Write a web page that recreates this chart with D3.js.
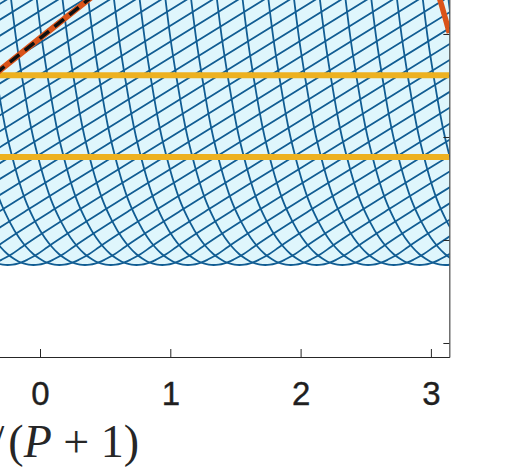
<!DOCTYPE html>
<html lang="en">
<head>
<meta charset="utf-8">
<title>Band mesh</title>
<style>
body { margin: 0; background: #fff; }
svg { display: block; }
.axis path, .axis line { stroke: #262626; stroke-width: 1; }
.axis text { font: 33px "Liberation Sans", Arial, sans-serif; fill: #1f1f1f; stroke: #1f1f1f; stroke-width: 0.4; }
.xlabel { font: 46px "Liberation Serif", serif; fill: #262626; }
</style>
</head>
<body>
<div id="chart"></div>
<script src="https://d3js.org/d3.v7.min.js"></script>
<script>
// tick values
var xTicks = [0, 1, 2, 3];
var yTicks = [0, 1, 2, 3];

// trough positions of the blue curve family
var troughX = [3.90, 3.703, 3.505, 3.308, 3.110, 2.913, 2.715, 2.518, 2.320, 2.123,
  1.925, 1.728, 1.530, 1.333, 1.135, 0.938, 0.740, 0.543, 0.345, 0.148,
  -0.050, -0.248, -0.445, -0.643, -0.840, -1.038, -1.235, -1.433, -1.630, -1.828,
  -2.025, -2.223, -2.420, -2.618, -2.815, -3.013, -3.210, -3.408, -3.605, -3.803, -4.0];
var troughLevel = 0.757;
// curve profile relative to its trough: steep left branch, shallow right branch
var leftDx = [0, -0.038, -0.077, -0.115, -0.153, -0.2, -0.253, -0.307, -0.384, -0.46, -0.537, -0.614, -0.675, -0.729, -0.767, -0.814];
var leftDy = [0, 0.003, 0.015, 0.034, 0.063, 0.107, 0.175, 0.262, 0.427, 0.64, 0.95, 1.35, 1.78, 2.22, 2.6, 3.107];
var rightDx = [0, 0.038, 0.077, 0.115, 0.153, 0.23, 0.307, 0.46, 0.767, 1.535, 2.302, 3.53];
var rightDy = [0, 0.003, 0.013, 0.03, 0.053, 0.107, 0.175, 0.305, 0.553, 1.155, 1.757, 2.718];

// horizontal yellow levels
var levels = [1.806, 2.60];
// red curve at the right edge
var redX = [2.95, 3.07, 3.1416];
var redY = [3.77, 3.33, 3.01];
// red/black dashed line at top left
var dashX = [-0.8, -0.307, 0.368, 0.8];
var dashY = [2.15, 2.65, 3.33, 3.77];

var width = 507, height = 471;
var x = d3.scaleLinear().domain([-Math.PI, Math.PI]).range([40 - Math.PI * 130.3, 40 + Math.PI * 130.3]);
var y = d3.scaleLinear().domain([-0.136, 4.2]).range([357, 343 - 103 * 4.2]);

var svg = d3.select('#chart').append('svg')
  .attr('width', width)
  .attr('height', height);

svg.append('clipPath').attr('id', 'plotclip')
  .append('rect')
  .attr('x', x(-Math.PI)).attr('y', y(4.2))
  .attr('width', x(Math.PI) - x(-Math.PI))
  .attr('height', y(-0.136) - y(4.2));

var plot = svg.append('g').attr('clip-path', 'url(#plotclip)');

// build each curve from the shared profile
var curves = troughX.map(function(t) {
  var pts = [];
  for (var i = leftDx.length - 1; i > 0; i--) pts.push([t + leftDx[i], troughLevel + leftDy[i]]);
  for (var j = 0; j < rightDx.length; j++) pts.push([t + rightDx[j], troughLevel + rightDy[j]]);
  return pts;
});

var area = d3.area()
  .x(function(d) { return x(d[0]); })
  .y0(y(4.2))
  .y1(function(d) { return y(d[1]); })
  .curve(d3.curveMonotoneX);
var line = d3.line()
  .x(function(d) { return x(d[0]); })
  .y(function(d) { return y(d[1]); })
  .curve(d3.curveMonotoneX);

plot.selectAll('path.fill').data(curves).enter()
  .append('path').attr('class', 'fill')
  .attr('d', area)
  .attr('fill', '#dff6fc');

plot.selectAll('path.band').data(curves).enter()
  .append('path').attr('class', 'band')
  .attr('d', line)
  .attr('fill', 'none')
  .attr('stroke', '#115d93')
  .attr('stroke-width', 1.8);

plot.selectAll('line.level').data(levels).enter()
  .append('line').attr('class', 'level')
  .attr('x1', x(-Math.PI)).attr('x2', x(Math.PI))
  .attr('y1', function(d) { return y(d); })
  .attr('y2', function(d) { return y(d); })
  .attr('stroke', '#EDB120')
  .attr('stroke-width', 6);

var redPts = d3.zip(redX, redY);
plot.append('path')
  .attr('d', line(redPts))
  .attr('fill', 'none')
  .attr('stroke', '#D95319')
  .attr('stroke-width', 5.5);

var dashPts = d3.zip(dashX, dashY);
plot.append('path')
  .attr('d', line(dashPts))
  .attr('fill', 'none')
  .attr('stroke', '#D95319')
  .attr('stroke-width', 6);
plot.append('path')
  .attr('d', line(dashPts))
  .attr('fill', 'none')
  .attr('stroke', '#111')
  .attr('stroke-width', 3.5)
  .attr('stroke-dasharray', '12,7');

// axes
svg.append('g')
  .attr('class', 'axis')
  .attr('transform', 'translate(0,' + y(-0.136) + ')')
  .call(d3.axisBottom(x).tickValues(xTicks).tickFormat(d3.format('d'))
    .tickSizeInner(-8).tickSizeOuter(0).tickPadding(25));

svg.append('g')
  .attr('class', 'axis')
  .attr('transform', 'translate(' + x(Math.PI) + ',0)')
  .call(d3.axisRight(y).tickValues(yTicks).tickSizeInner(-6).tickSizeOuter(0).tickFormat(''));

// x label (its left part falls outside the picture)
var lbl = svg.append('text')
  .attr('class', 'xlabel')
  .attr('x', 139)
  .attr('y', 457)
  .attr('text-anchor', 'end');
lbl.append('tspan').text('/');
lbl.append('tspan').attr('dx', 4).text('(');
lbl.append('tspan').attr('font-style', 'italic').text('P');
lbl.append('tspan').text(' + 1)');
</script>
</body>
</html>
